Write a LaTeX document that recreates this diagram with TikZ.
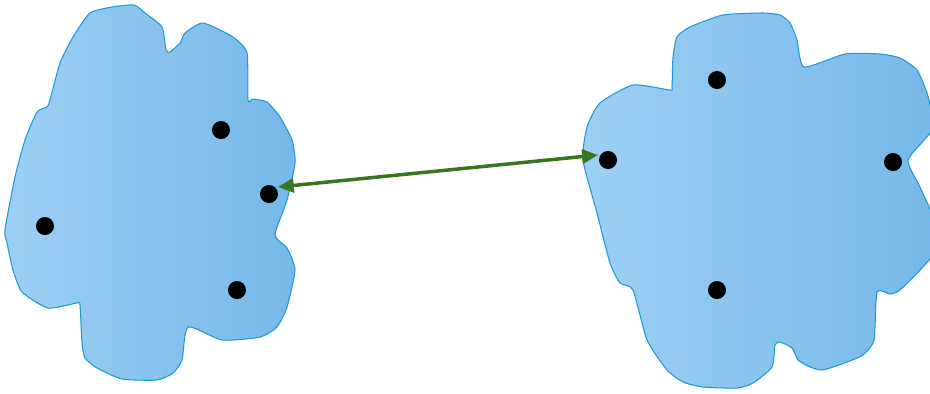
\documentclass[tikz,border=0pt]{standalone}
\usetikzlibrary{arrows.meta}
\definecolor{blobleft}{HTML}{9DCFF4}
\definecolor{blobright}{HTML}{76B8E8}
\definecolor{blobline}{HTML}{1B9AD6}
\definecolor{arrowgreen}{HTML}{3A7520}
\tikzset{
  blob/.style={draw=blobline, line width=0.6pt, left color=blobleft, right color=blobright},
  dot/.style={circle, fill=black, inner sep=0pt, minimum size=0.36cm},
  link/.style={draw=arrowgreen, line width=2pt, {Triangle[length=9pt,width=8pt]}-{Triangle[length=9pt,width=8pt]}}
}
\begin{document}
\begin{tikzpicture}[x=0.02cm,y=-0.02cm]
\useasboundingbox (0,0) rectangle (930,393);
\begin{scope}
\clip (0,0) rectangle (930,393);
% left blob
\draw[blob] plot[smooth cycle, tension=0.35] coordinates {
(90,13) (112,7) (134,5) (145,13) (162,27) (166,50) (170,52) (180,43) (185,33) (203,23)
(233,37) (247,53) (248,100) (253,99) (267,102) (280,117) (292,140) (295,163)
(287,200) (275,235) (287,248) (295,270) (287,307) (277,327) (260,337) (222,340)
(188,327) (182,360) (173,373) (157,380) (122,379) (97,368) (85,358) (82,343) (80,305)
(77,303) (48,308) (22,292) (13,270) (7,243) (5,230) (15,177) (25,140) (37,112)
(47,107) (50,100) (60,63) (73,37)};
% right blob
\draw[blob] plot[smooth cycle, tension=0.35] coordinates {
(723,15) (763,13) (780,15) (790,23) (797,40) (804,67) (845,54) (880,54) (900,58)
(917,70) (927,93) (932,115) (930,133) (908,160) (920,187) (932,215) (935,250)
(923,267) (900,290) (890,294) (877,292) (874,340) (863,355) (847,362) (823,370)
(810,367) (798,360) (792,348) (780,342) (775,345) (772,367) (753,383) (737,388)
(703,387) (683,382) (667,370) (647,340) (633,290) (620,283) (610,263) (597,213)
(583,160) (587,127) (600,103) (633,85) (670,90) (672,87) (673,57) (677,37) (690,27)};
\end{scope}
% dots
\node[dot] (l1) at (221,130) {};
\node[dot] (l2) at (269,194) {};
\node[dot] (l3) at (45,226) {};
\node[dot] (l4) at (237,290) {};
\node[dot] (r1) at (608,160) {};
\node[dot] (r2) at (717,80) {};
\node[dot] (r3) at (893,162) {};
\node[dot] (r4) at (717,290) {};
% link
\coordinate (ta) at (278,187);
\coordinate (tb) at (598,155);
\draw[link] (ta) -- (tb);
\end{tikzpicture}
\end{document}
